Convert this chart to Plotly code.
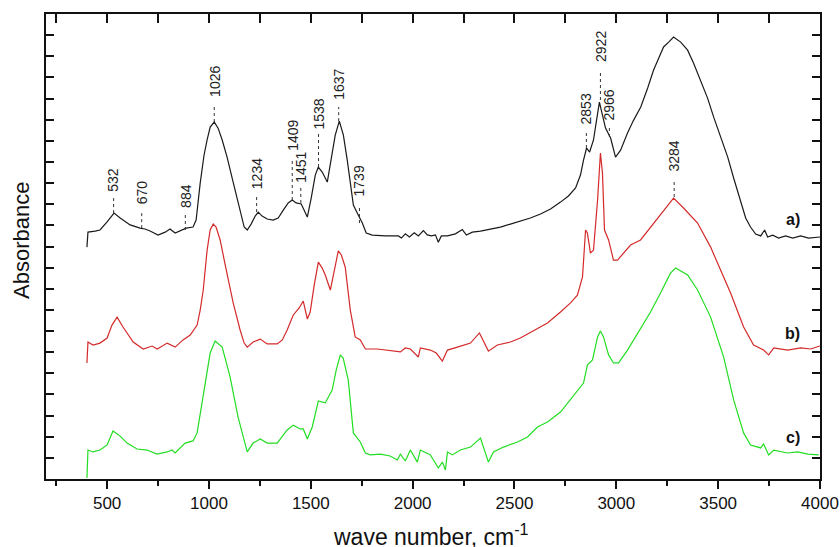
import plotly.graph_objects as go

# ---- data (wave number in cm^-1, absorbance in arbitrary offset units) ----
wn_a = [401, 406, 441, 465, 500, 534, 564, 613, 662, 686, 711, 750, 785, 809, 834, 858, 888, 922, 937,
        957, 976, 991, 1006, 1026, 1045, 1065, 1089, 1114, 1139, 1153, 1173, 1188, 1207, 1227, 1242,
        1261, 1286, 1315, 1340, 1365, 1389, 1409, 1428, 1453, 1468, 1483, 1502, 1522, 1537, 1556, 1581,
        1601, 1620, 1640, 1660, 1679, 1694, 1709, 1733, 1753, 1772, 1802, 1866, 1930, 1945, 1964, 1984,
        2008, 2028, 2053, 2072, 2092, 2112, 2126, 2141, 2171, 2210, 2244, 2264, 2293, 2333, 2382, 2431,
        2480, 2529, 2578, 2628, 2677, 2726, 2765, 2800, 2824, 2839, 2854, 2869, 2888, 2903, 2917, 2932,
        2947, 2972, 2996, 3021, 3055, 3085, 3120, 3154, 3183, 3208, 3232, 3257, 3281, 3316, 3350, 3379,
        3414, 3448, 3478, 3512, 3547, 3576, 3610, 3635, 3659, 3684, 3709, 3728, 3743, 3768, 3797, 3831,
        3866, 3905, 3944, 3979, 4000]
abs_a = [10.97, 11.68, 11.73, 11.78, 12.16, 12.58, 12.35, 12.02, 11.87, 11.83, 11.73, 11.54, 11.68, 11.83,
         11.64, 11.73, 11.87, 11.92, 12.25, 14.0, 15.33, 16.04, 16.65, 16.89, 16.6, 16.04, 15.23, 14.24,
         13.2, 12.72, 11.92, 11.78, 12.06, 12.44, 12.63, 12.44, 12.3, 12.25, 12.35, 12.72, 13.06, 13.2,
         13.06, 13.01, 12.72, 12.39, 13.29, 14.38, 14.76, 14.52, 14.05, 15.09, 16.27, 16.93, 16.27, 15.09,
         13.91, 12.96, 12.49, 12.11, 11.64, 11.54, 11.5, 11.5, 11.4, 11.6, 11.45, 11.65, 11.5, 11.75,
         11.55, 11.5, 11.55, 11.2, 11.5, 11.5, 11.6, 11.8, 11.54, 11.68, 11.73, 11.83, 11.92, 12.06,
         12.2, 12.35, 12.54, 12.77, 13.1, 13.39, 13.77, 14.38, 15.09, 15.66, 15.47, 16.04, 16.98, 17.83,
         17.22, 16.6, 16.13, 15.23, 15.56, 16.37, 16.98, 17.6, 18.5, 19.35, 19.91, 20.44, 20.67, 20.91,
         20.67, 20.29, 19.68, 18.87, 18.02, 17.12, 16.18, 15.23, 14.24, 13.2, 12.35, 11.92, 11.59, 11.5,
         11.78, 11.45, 11.54, 11.4, 11.5, 11.4, 11.5, 11.4, 11.45, 11.45]

wn_b = [401, 406, 431, 465, 500, 524, 549, 578, 628, 677, 721, 746, 795, 834, 873, 908, 942, 957, 972,
        991, 1006, 1021, 1035, 1055, 1080, 1099, 1119, 1153, 1173, 1188, 1217, 1252, 1286, 1335, 1360,
        1384, 1414, 1443, 1463, 1483, 1497, 1517, 1537, 1556, 1571, 1596, 1615, 1635, 1650, 1669, 1694,
        1718, 1743, 1768, 1827, 1905, 1940, 1964, 1989, 2028, 2038, 2087, 2116, 2146, 2171, 2220, 2249,
        2284, 2328, 2372, 2416, 2480, 2529, 2613, 2662, 2726, 2775, 2809, 2834, 2849, 2858, 2873, 2888,
        2908, 2922, 2932, 2942, 2962, 2986, 3006, 3035, 3070, 3119, 3183, 3232, 3281, 3330, 3399, 3463,
        3527, 3561, 3625, 3674, 3723, 3748, 3773, 3841, 3905, 3954, 3999]
abs_b = [5.49, 6.48, 6.34, 6.43, 6.67, 7.28, 7.66, 7.19, 6.48, 6.15, 6.29, 6.15, 6.43, 6.24, 6.58, 6.81,
         7.28, 7.99, 8.94, 10.83, 11.78, 12.06, 11.92, 11.31, 10.12, 9.18, 8.33, 7.05, 6.43, 6.24, 6.48,
         6.62, 6.39, 6.39, 6.58, 7.05, 7.76, 8.09, 8.42, 7.57, 7.9, 9.18, 10.26, 9.98, 9.65, 8.94, 9.89,
         10.79, 10.6, 10.03, 7.99, 6.72, 6.58, 6.15, 6.15, 6.05, 6.01, 6.2, 6.15, 5.77, 6.2, 6.1, 5.96,
         5.58, 6.1, 6.24, 6.34, 6.43, 6.91, 6.05, 6.34, 6.48, 6.67, 7.14, 7.38, 7.9, 8.33, 8.7, 9.56,
         11.78, 11.64, 10.69, 10.83, 13.2, 15.42, 14.47, 11.78, 11.31, 10.36, 10.36, 10.69, 11.07, 11.31,
         12.11, 12.72, 13.29, 12.82, 12.11, 10.97, 9.56, 8.8, 7.19, 6.34, 6.1, 5.87, 6.2, 6.1, 6.2, 6.15,
         6.29]

wn_c = [401, 406, 431, 465, 500, 529, 564, 598, 647, 696, 745, 795, 819, 834, 883, 922, 942, 971, 991,
        1006, 1030, 1065, 1104, 1143, 1188, 1217, 1252, 1286, 1335, 1384, 1414, 1448, 1463, 1483, 1507,
        1537, 1571, 1605, 1625, 1645, 1659, 1684, 1709, 1743, 1768, 1792, 1841, 1890, 1925, 1940, 1964,
        1989, 2023, 2038, 2087, 2126, 2146, 2161, 2171, 2195, 2234, 2284, 2333, 2372, 2397, 2446, 2515,
        2564, 2613, 2662, 2726, 2790, 2839, 2858, 2883, 2908, 2922, 2937, 2962, 2986, 3011, 3055, 3119,
        3168, 3217, 3266, 3291, 3350, 3399, 3463, 3527, 3576, 3625, 3659, 3709, 3723, 3748, 3773, 3841,
        3891, 3940, 3994]
abs_c = [0.05, 1.37, 1.28, 1.37, 1.61, 2.27, 2.03, 1.7, 1.42, 1.37, 1.18, 1.28, 1.37, 1.23, 1.7, 1.8,
         2.18, 3.88, 5.16, 5.96, 6.53, 6.24, 4.82, 2.93, 1.28, 1.7, 1.89, 1.7, 1.7, 2.32, 2.55, 2.37, 2.37,
         1.89, 2.46, 3.69, 3.6, 4.21, 5.16, 5.87, 5.72, 4.68, 2.18, 1.75, 1.23, 1.14, 1.18, 1.09, 0.9,
         1.18, 0.85, 1.37, 0.8, 1.37, 1.14, 0.52, 0.8, 0.43, 1.28, 1.14, 1.37, 1.51, 1.94, 0.8, 1.28,
         1.51, 1.75, 1.99, 2.46, 2.7, 3.17, 3.97, 4.54, 5.39, 5.63, 6.72, 7.0, 6.72, 5.87, 5.49, 5.49,
         6.1, 7.14, 7.9, 8.8, 9.74, 9.98, 9.65, 8.94, 7.66, 5.77, 3.74, 2.18, 1.61, 1.47, 1.66, 1.14,
         1.37, 1.23, 1.28, 1.18, 1.14]

peak_labels = [532, 670, 884, 1026, 1234, 1409, 1451, 1538, 1637, 1739, 2853, 2922, 2966, 3284]
peak_line_bottom = [12.58, 11.87, 11.78, 16.89, 12.63, 13.2, 13.06, 14.76, 16.93, 12.11, 15.66, 17.93, 16.18, 13.34]
peak_line_top = [13.29, 12.63, 12.49, 17.69, 13.34, 15.18, 13.77, 16.37, 17.6, 12.96, 16.41, 19.35, 16.65, 14.14]
peak_text_y = [14.14, 13.55, 13.41, 18.8, 14.45, 16.25, 14.76, 17.27, 18.68, 14.1, 17.5, 20.46, 17.69, 15.26]

series_names = ["a)", "b)", "c)"]
series_label_y = [12.3, 6.9, 1.95]

FONT = "Liberation Sans, Arial, sans-serif"
colors = ["#1a1a1a", "#d42a2a", "#22dd22"]

fig = go.Figure()
for wn, ab, col, name in zip([wn_a, wn_b, wn_c], [abs_a, abs_b, abs_c], colors, series_names):
    fig.add_trace(go.Scatter(x=wn, y=ab, mode="lines", line=dict(color=col, width=1.2),
                             name=name, showlegend=False, hoverinfo="skip"))

# invisible trace for the top (inner-tick) axis
fig.add_trace(go.Scatter(x=[wn_a[0]], y=[abs_a[0]], xaxis="x2", yaxis="y", showlegend=False,
                         hoverinfo="skip", mode="lines", line=dict(width=0)))

shapes = []
annotations = []
for p, yb, yt, ty in zip(peak_labels, peak_line_bottom, peak_line_top, peak_text_y):
    shapes.append(dict(type="line", xref="x", yref="y", x0=p, x1=p, y0=yb, y1=yt,
                       line=dict(color="#333333", width=1, dash="dot")))
    annotations.append(dict(x=p, y=ty, xref="x", yref="y", text=str(p), textangle=-90,
                            showarrow=False, xanchor="center", yanchor="middle",
                            font=dict(family=FONT, size=14, color="#222222")))

for name, ly in zip(series_names, series_label_y):
    annotations.append(dict(x=3865, y=ly, xref="x", yref="y", text="<b>" + name + "</b>",
                            showarrow=False, xanchor="center", yanchor="middle",
                            font=dict(family=FONT, size=16, color="#111111")))

annotations.append(dict(x=0.497, y=-0.121, xref="paper", yref="paper",
                        text="wave number, cm<sup>-1</sup>", showarrow=False,
                        xanchor="center", yanchor="middle",
                        font=dict(family=FONT, size=23, color="#111111")))
annotations.append(dict(x=-0.031, y=0.512, xref="paper", yref="paper", text="Absorbance",
                        textangle=-90, showarrow=False, xanchor="center", yanchor="middle",
                        font=dict(family=FONT, size=22, color="#111111")))

fig.update_layout(
    width=840, height=547,
    margin=dict(l=46, r=20, t=14, b=68, autoexpand=False),
    paper_bgcolor="white", plot_bgcolor="white",
    shapes=shapes, annotations=annotations,
    xaxis=dict(range=[200, 4000], tick0=0, dtick=500, ticks="outside", ticklen=8, tickwidth=1.5,
               tickcolor="#111", showline=True, linecolor="#111", linewidth=1.5, mirror=True,
               showgrid=False, zeroline=False, automargin=False,
               minor=dict(dtick=250, tick0=0, ticks="outside", ticklen=5, tickwidth=1.5, tickcolor="#111"),
               tickfont=dict(family=FONT, size=17, color="#111")),
    xaxis2=dict(range=[200, 4000], overlaying="x", side="top", tick0=0, dtick=250,
                ticks="inside", ticklen=9, tickwidth=1.5, tickcolor="#111", showticklabels=False,
                showline=False, showgrid=False, zeroline=False, automargin=False),
    yaxis=dict(range=[0, 22], tick0=0, dtick=2, ticks="inside", ticklen=8, tickwidth=1.5,
               tickcolor="#111", showline=True, linecolor="#111", linewidth=1.5, mirror="allticks",
               showticklabels=False, showgrid=False, zeroline=False, automargin=False,
               minor=dict(dtick=1, tick0=0, ticks="inside", ticklen=5, tickwidth=1.5, tickcolor="#111")),
)

fig.write_html("out.html")
